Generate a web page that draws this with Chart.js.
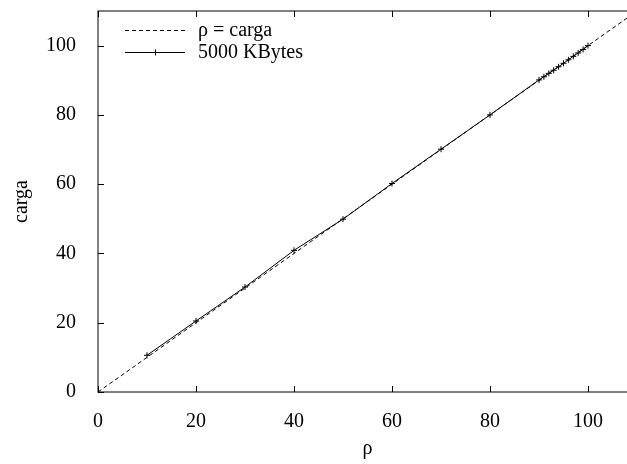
<!DOCTYPE html>
<html lang="es">
<head>
    <meta charset="UTF-8">
    <title>carga vs rho</title>
    <script src="https://cdn.jsdelivr.net/npm/chart.js"></script>
    <style>
        html, body { margin: 0; padding: 0; background: #fff; overflow: hidden; }
    </style>
</head>
<body>
    <canvas id="cargaChart" width="645" height="464"></canvas>
    <script>
        // valores
        const rho = [10, 20, 30, 40, 50, 60, 70, 80, 90, 91, 92, 93, 94, 95, 96, 97, 98, 99, 100];
        const carga5000 = [10.6, 20.5, 30.3, 40.9, 49.9, 60.2, 70.1, 80.0, 90.1, 91.0, 92.0, 92.9, 93.9, 94.9, 95.9, 96.9, 97.9, 98.9, 100.0];
        const identidad = [0, 110];
        const xTicks = [0, 20, 40, 60, 80, 100];
        const yTicks = [0, 20, 40, 60, 80, 100];
        const serieNames = ['\u03c1 = carga', '5000 KBytes'];

        const FONT = 'Liberation Serif, Times New Roman, serif';

        // marco y marcas hacia dentro, estilo gnuplot
        const framePlugin = {
            id: 'frame',
            afterDraw(chart) {
                const ctx = chart.ctx;
                const a = chart.chartArea;
                const xs = chart.scales.x, ys = chart.scales.y;
                ctx.save();
                ctx.strokeStyle = '#000';
                ctx.lineWidth = 1;
                ctx.strokeRect(a.left, a.top, a.right - a.left, a.bottom - a.top);
                ctx.beginPath();
                xs.ticks.forEach(t => {
                    const px = Math.round(xs.getPixelForValue(t.value)) + 0.5;
                    ctx.moveTo(px, a.bottom); ctx.lineTo(px, a.bottom - 6);
                    ctx.moveTo(px, a.top); ctx.lineTo(px, a.top + 6);
                });
                ys.ticks.forEach(t => {
                    const py = Math.round(ys.getPixelForValue(t.value)) + 0.5;
                    ctx.moveTo(a.left, py); ctx.lineTo(a.left + 6, py);
                    ctx.moveTo(a.right, py); ctx.lineTo(a.right - 6, py);
                });
                ctx.stroke();

                // leyenda
                const lx = a.left + 27, ly = a.top + 19;
                ctx.font = '20px ' + FONT;
                ctx.fillStyle = '#000';
                ctx.textBaseline = 'middle';
                chart.data.datasets.forEach((ds, i) => {
                    const y = Math.round(ly + i * 22) + 0.5;
                    ctx.setLineDash(ds.borderDash || []);
                    ctx.beginPath();
                    ctx.moveTo(lx, y); ctx.lineTo(lx + 60, y);
                    ctx.stroke();
                    ctx.setLineDash([]);
                    if (ds.pointRadius > 0) {
                        ctx.beginPath();
                        ctx.moveTo(lx + 30 - 3, y); ctx.lineTo(lx + 30 + 3, y);
                        ctx.moveTo(lx + 30.5, y - 3); ctx.lineTo(lx + 30.5, y + 3);
                        ctx.stroke();
                    }
                    ctx.fillText(ds.label, lx + 73, y);
                });
                ctx.restore();
            }
        };

        const ctx = document.getElementById('cargaChart').getContext('2d');
        new Chart(ctx, {
            type: 'scatter',
            data: {
                datasets: [{
                    label: serieNames[0],
                    data: identidad.map(v => ({ x: v, y: v })),
                    showLine: true,
                    borderColor: '#000',
                    borderWidth: 1,
                    borderDash: [4, 3],
                    pointRadius: 0
                }, {
                    label: serieNames[1],
                    data: rho.map((r, i) => ({ x: r, y: carga5000[i] })),
                    showLine: true,
                    borderColor: '#000',
                    borderWidth: 1,
                    pointStyle: 'cross',
                    pointRadius: 3,
                    pointBorderColor: '#000',
                    pointBorderWidth: 1
                }]
            },
            options: {
                responsive: false,
                devicePixelRatio: 1,
                animation: false,
                layout: { padding: { left: 0, top: 11, right: 8, bottom: 0 } },
                plugins: {
                    legend: { display: false },
                    tooltip: { enabled: false }
                },
                scales: {
                    x: {
                        type: 'linear',
                        min: 0,
                        max: 110,
                        grid: { display: false },
                        border: { display: false },
                        afterBuildTicks: s => { s.ticks = xTicks.map(v => ({ value: v })); },
                        afterFit: s => { s.height = 72; s.paddingLeft = 0; s.paddingRight = 0; },
                        ticks: { color: '#000', padding: 10, font: { family: FONT, size: 20 } },
                        title: { display: true, text: '\u03c1', color: '#000', padding: { top: 0, bottom: 3 }, font: { family: FONT, size: 20 } }
                    },
                    y: {
                        type: 'linear',
                        min: 0,
                        max: 110,
                        grid: { display: false },
                        border: { display: false },
                        afterBuildTicks: s => { s.ticks = yTicks.map(v => ({ value: v })); },
                        afterFit: s => { s.width = 98; s.paddingTop = 0; s.paddingBottom = 0; },
                        ticks: { color: '#000', padding: 14, font: { family: FONT, size: 20 } },
                        title: { display: true, text: 'carga', color: '#000', padding: { top: 10, bottom: 0 }, font: { family: FONT, size: 20 } }
                    }
                }
            },
            plugins: [framePlugin]
        });
    </script>
</body>
</html>
